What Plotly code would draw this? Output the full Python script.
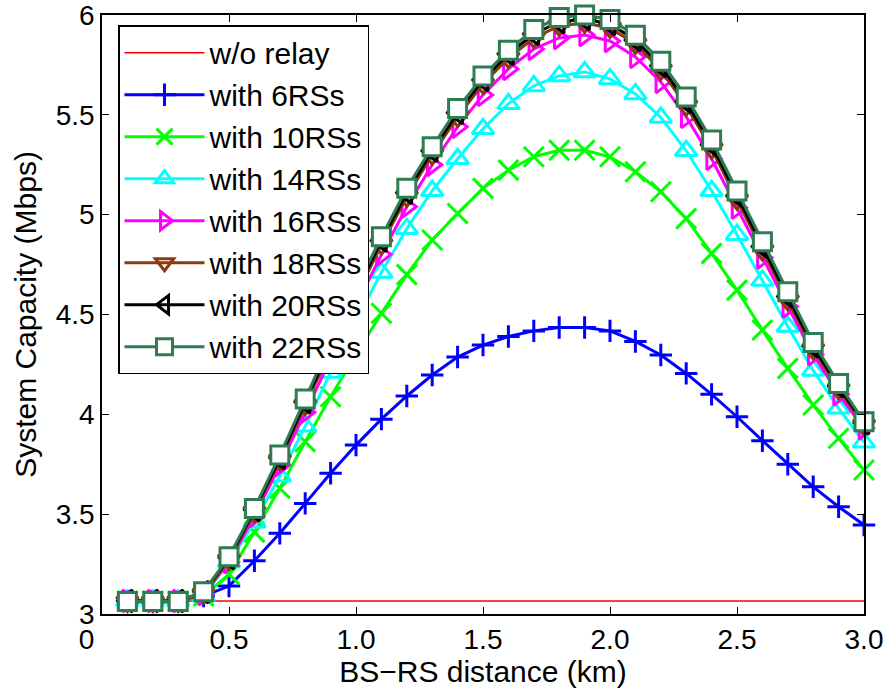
import plotly.graph_objects as go

x_km = [0.1, 0.2, 0.3, 0.4, 0.5, 0.6, 0.7, 0.8, 0.9, 1.0, 1.1, 1.2, 1.3, 1.4, 1.5,
        1.6, 1.7, 1.8, 1.9, 2.0, 2.1, 2.2, 2.3, 2.4, 2.5, 2.6, 2.7, 2.8, 2.9, 3.0]

no_relay = [3.065] * 30

rs6 = [3.065, 3.065, 3.065, 3.09, 3.14, 3.267, 3.404, 3.554, 3.705, 3.846, 3.976, 4.092, 4.197, 4.287, 4.347,
       4.39, 4.418, 4.435, 4.435, 4.418, 4.365, 4.297, 4.205, 4.10, 3.988, 3.868, 3.75, 3.637, 3.537, 3.446]

rs10 = [3.065, 3.065, 3.065, 3.09, 3.2, 3.41, 3.63, 3.863, 4.088, 4.30, 4.506, 4.70, 4.873, 5.006, 5.132,
        5.223, 5.29, 5.323, 5.323, 5.29, 5.215, 5.115, 4.98, 4.806, 4.622, 4.422, 4.23, 4.047, 3.88, 3.721]

rs14 = [3.065, 3.065, 3.065, 3.09, 3.26, 3.46, 3.69, 3.94, 4.21, 4.47, 4.71, 4.93, 5.12, 5.28, 5.43,
        5.555, 5.645, 5.695, 5.715, 5.68, 5.605, 5.487, 5.32, 5.12, 4.90, 4.67, 4.44, 4.22, 4.03, 3.86]

rs16 = [3.065, 3.065, 3.065, 3.10, 3.26, 3.49, 3.745, 4.01, 4.28, 4.545, 4.80, 5.04, 5.25, 5.44, 5.60,
        5.73, 5.83, 5.885, 5.90, 5.87, 5.79, 5.665, 5.49, 5.28, 5.035, 4.785, 4.54, 4.30, 4.10, 3.93]

rs18 = [3.06, 3.06, 3.06, 3.10, 3.27, 3.51, 3.77, 4.045, 4.32, 4.59, 4.85, 5.09, 5.30, 5.49, 5.655,
        5.785, 5.885, 5.945, 5.96, 5.935, 5.855, 5.725, 5.545, 5.33, 5.075, 4.82, 4.57, 4.325, 4.125, 3.945]

rs20 = [3.065, 3.065, 3.065, 3.11, 3.28, 3.52, 3.78, 4.06, 4.34, 4.61, 4.87, 5.11, 5.32, 5.51, 5.675,
        5.805, 5.905, 5.965, 5.98, 5.955, 5.875, 5.745, 5.565, 5.35, 5.095, 4.84, 4.59, 4.34, 4.14, 3.955]

rs22 = [3.062, 3.062, 3.062, 3.112, 3.287, 3.529, 3.796, 4.077, 4.36, 4.63, 4.889, 5.132, 5.34, 5.532, 5.694,
        5.824, 5.927, 5.988, 6.0, 5.978, 5.899, 5.769, 5.59, 5.374, 5.118, 4.864, 4.614, 4.36, 4.155, 3.963]

x_tickvals = [0, 0.5, 1.0, 1.5, 2.0, 2.5, 3.0]
x_ticktext = ["0\u2007\u2007", "0.5", "1.0", "1.5", "2.0", "2.5", "3.0"]
y_tickvals = [3, 3.5, 4, 4.5, 5, 5.5, 6]
y_ticktext = ["3", "3.5", "4", "4.5", "5", "5.5", "6"]

series = [
    ("w/o relay", no_relay, "#FF0000", None, 1.5, 0, None),
    ("with 6RSs", rs6, "#0000FF", "cross-thin-open", 3, 16, None),
    ("with 10RSs", rs10, "#00FF00", "x-thin-open", 3, 20, None),
    ("with 14RSs", rs14, "#00FFFF", "triangle-up-open", 3, 19, None),
    ("with 16RSs", rs16, "#FF00FF", "triangle-right-open", 3, 19, None),
    ("with 18RSs", rs18, "#8B3A0F", "triangle-down-open", 3, 19, None),
    ("with 20RSs", rs20, "#000000", "triangle-left-open", 3, 19, None),
    ("with 22RSs", rs22, "#2E7D52", "square", 3, 18, "white"),
]

fig = go.Figure()
for i, (name, vals, color, sym, lw, ms, fill) in enumerate(series):
    if sym is None:
        fig.add_trace(go.Scatter(x=x_km, y=vals, name=name, mode="lines",
                                 line=dict(color=color, width=lw), legendgroup=f"g{i}",
                                 cliponaxis=False))
    else:
        marker = dict(symbol=sym, size=ms, color=fill if fill else color,
                      line=dict(color=color, width=3))
        fig.add_trace(go.Scatter(x=x_km, y=vals, name=name, mode="lines+markers",
                                 line=dict(color=color, width=lw), marker=marker,
                                 legendgroup=f"g{i}", cliponaxis=False))

font_family = "Liberation Sans, Arial, sans-serif"
fig.update_layout(
    width=888, height=691,
    margin=dict(l=102, r=24, t=15, b=77, autoexpand=False),
    plot_bgcolor="white", paper_bgcolor="white",
    font=dict(family=font_family, size=28, color="black"),
    showlegend=True,
    legend=dict(x=0.021, y=0.983, xanchor="left", yanchor="top",
                bgcolor="white", bordercolor="black", borderwidth=1.5,
                font=dict(size=30), tracegroupgap=0, itemwidth=80,
                entrywidth=190, entrywidthmode="pixels"),
    xaxis=dict(range=[0, 3.0], tickvals=x_tickvals, ticktext=x_ticktext,
               ticks="inside", ticklen=7, tickcolor="black", tickwidth=1,
               showline=True, linecolor="black", linewidth=1.5, mirror="allticks",
               showgrid=False, zeroline=False, tickfont=dict(size=28),
               ticklabeloverflow="allow", automargin=False,
               title=dict(text="BS\u2212RS distance (km)", standoff=0, font=dict(size=30))),
    yaxis=dict(range=[3, 6.0001], tickvals=y_tickvals, ticktext=y_ticktext,
               ticks="inside", ticklen=7, tickcolor="black", tickwidth=1,
               showline=True, linecolor="black", linewidth=1.5, mirror="allticks",
               showgrid=False, zeroline=False, tickfont=dict(size=28),
               ticklabeloverflow="allow", automargin=False,
               title=dict(text="System Capacity (Mbps)", standoff=10, font=dict(size=30))),
)

fig.write_html("out.html", config={"displayModeBar": False},
               post_script="document.body.style.margin='0';")
